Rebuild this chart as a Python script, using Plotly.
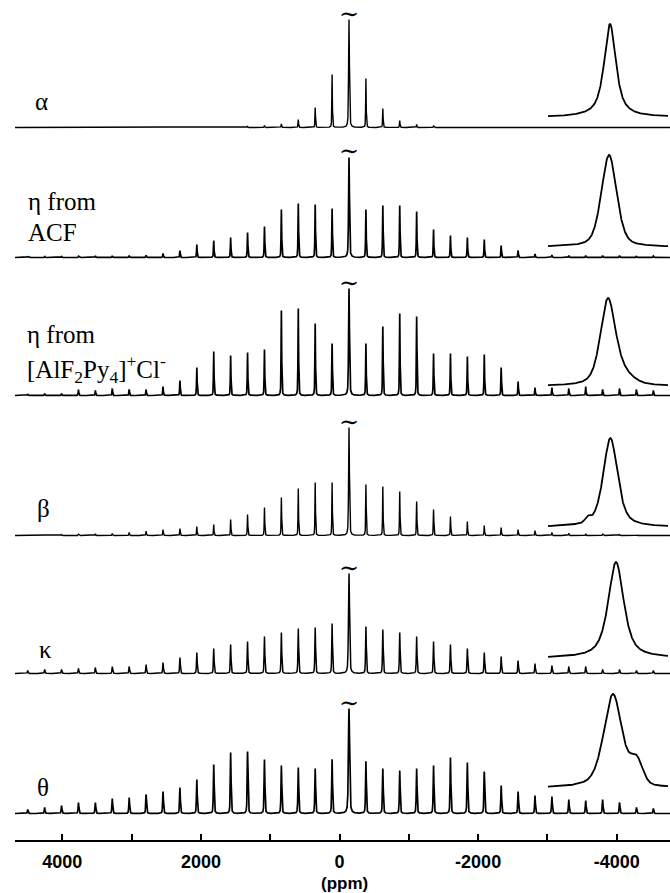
import numpy as np
import plotly.graph_objects as go

W, H = 670, 893

# ------------------------------------------------------------------ data
ORDERS = list(range(-19, 19))          # spinning-sideband order n
CENTRE_PPM = -137.0                    # isotropic (central) line
SIDEBAND_SPACING_PPM = 244.0           # spinning-rate spacing

LABEL_LINE1 = ["α", "η from", "η from", "β", "κ", "θ"]
LABEL_LINE2 = ["", "ACF", "[AlF<sub>2</sub>Py<sub>4</sub>]<sup>+</sup>Cl<sup>-</sup>", "", "", ""]

# sideband intensities, n = -19 ... 18 (central line n = 0 truncated, marked ~)
ALPHA = [0, 0, 0, 0, 0, 0, 0, 0, 0, 0, 0, 0.3, 0.5, 1, 2, 3.5, 8, 20, 53,
         108,
         49, 19, 7, 3, 1.5, 0.7, 0.3, 0, 0, 0, 0, 0, 0, 0, 0, 0, 0, 0]
ETA_ACF = [0.8, 1, 1, 1.3, 1.7, 1.7, 2, 2.3, 4, 7, 13, 17, 20, 25, 31, 48, 54, 53, 49,
           100,
           48, 52, 52, 46, 28, 22, 20, 18, 12, 7, 3.5, 2.5, 2, 2, 2, 2, 1.5, 1.5]
ETA_ALF = [1.5, 2, 2, 6, 5, 7, 6, 6, 9, 15, 28, 44, 40, 43, 46, 85, 87, 72, 52,
           107,
           52, 69, 82, 79, 42, 42, 39, 41, 28, 14, 8, 8, 7, 9, 6, 7, 6, 5]
BETA = [0.5, 0.7, 1, 1.3, 1.7, 2, 3, 4.3, 6, 7, 9, 11, 16, 21, 28, 38, 47, 53, 53,
        108,
        51, 49, 44, 34, 26, 19, 14, 10, 8, 6, 5, 3, 2.3, 1.7, 1.3, 1, 0.8, 0.6]
KAPPA = [3, 4, 4, 5, 6, 7, 7, 9, 11, 16, 21, 25, 29, 32, 37, 41, 45, 46, 50,
         100,
         47, 44, 41, 37, 32, 29, 25, 21, 17, 13, 10, 8, 7, 7, 4, 4, 3, 3]
THETA = [4, 6, 8, 11, 11, 15, 16, 19, 22, 26, 34, 49, 61, 62, 54, 48, 46, 45, 54,
         105,
         52, 45, 43, 45, 48, 56, 51, 42, 28, 22, 18, 17, 14, 13, 14, 11, 6, 5]
INTENSITIES = [ALPHA, ETA_ACF, ETA_ALF, BETA, KAPPA, THETA]

SIDEBAND_FWHM_PPM = [9, 10, 10, 9, 12, 13]
CENTRE_FWHM_PPM = [14, 15, 15, 14, 18, 20]
LORENTZ_FRACTION = 0.5

# expanded central line (insets): components (centre, rel. height, fwhm, lorentz fraction)
INSET_COMPONENTS = [
    [(-137, 1.00, 70, 0.8)],
    [(-132, 1.00, 90, 0.4)],
    [(-126, 1.00, 88, 0.5), (-185, 0.12, 140, 0.0)],
    [(-139, 1.00, 85, 0.6), (-25, 0.05, 30, 0.0)],
    [(-167, 1.00, 92, 0.7)],
    [(-152, 1.00, 110, 0.5), (-270, 0.24, 70, 0.0)],
]

X_TICKS = [4000, 3000, 2000, 1000, 0, -1000, -2000, -3000, -4000]
X_TICK_LABELS = ["4000", "", "2000", "", "0", "", "-2000", "", "-4000"]

# ------------------------------------------------------------------ layout constants (px)
BASELINE_PX = [127, 257, 395, 535, 673, 813]
INSET_BASE_PX = [117, 247, 386, 527, 658, 788]
INSET_TOP_PX = [24, 155, 298, 438, 562, 694]
LINE_W = [1.4, 1.7, 1.7, 1.4, 1.5, 1.7]
LABEL1_POS = [(33, 101.5), (26, 201.5), (25, 334.5), (35, 508.5), (37, 649.5), (35, 787.5)]
LABEL2_POS = [None, (26, 232.5), (25, 368.5), None, None, None]
AXIS_PX = 841
X_LEFT_PX = 15
PPM_LEFT, PPM_RIGHT = 4683, -4769


def px_x(px):
    return px / W


def px_y(py):
    return 1 - py / H


def shape(x, x0, fwhm, lf):
    u = (x - x0) / (fwhm / 2.0)
    return lf / (1 + u ** 2) + (1 - lf) * np.exp(-np.log(2) * u ** 2)


ppm = np.arange(PPM_LEFT, PPM_RIGHT - 1, -1.0)
positions = [CENTRE_PPM - SIDEBAND_SPACING_PPM * n for n in ORDERS]

fig = go.Figure()
layout_axes = {}

for k, inten in enumerate(INTENSITIES):
    y = np.zeros_like(ppm)
    for n, pos, a in zip(ORDERS, positions, inten):
        if a <= 0:
            continue
        fw = CENTRE_FWHM_PPM[k] if n == 0 else SIDEBAND_FWHM_PPM[k]
        y += a * shape(ppm, pos, fw, LORENTZ_FRACTION)
    yname = "y" if k == 0 else f"y{k + 1}"
    fig.add_trace(go.Scatter(x=ppm, y=np.round(y, 2), mode="lines",
                             line=dict(color="black", width=LINE_W[k]),
                             xaxis="x", yaxis=yname, hoverinfo="skip", showlegend=False))
    b = BASELINE_PX[k]
    layout_axes["yaxis" if k == 0 else f"yaxis{k + 1}"] = dict(
        domain=[px_y(b + 6.5), px_y(b - 125.5)], range=[-6, 126], visible=False,
        anchor="x", fixedrange=True)

    # tilde marking the truncated central line
    fig.add_annotation(x=CENTRE_PPM, xref="x", y=inten[ORDERS.index(0)], yref=yname,
                       text="∼", showarrow=False, yanchor="middle", yshift=6,
                       font=dict(family="DejaVu Serif, serif", size=24, color="black"))

    # inset: expanded central line
    xi = np.linspace(173, -427, 600)
    yi = np.zeros_like(xi)
    for (c, h, fw, lf) in INSET_COMPONENTS[k]:
        yi += h * shape(xi, c, fw, lf)
    yi = yi / yi.max()
    iy = f"y{k + 7}"
    fig.add_trace(go.Scatter(x=xi, y=np.round(yi, 4), mode="lines",
                             line=dict(color="black", width=1.8),
                             xaxis="x2", yaxis=iy, hoverinfo="skip", showlegend=False))
    base, top = INSET_BASE_PX[k], INSET_TOP_PX[k]
    hh = base - top
    layout_axes[f"yaxis{k + 7}"] = dict(
        domain=[px_y(base + 0.05 * hh), px_y(top - 0.05 * hh)], range=[-0.05, 1.05],
        visible=False, anchor="x2", fixedrange=True)

    # labels
    serif = dict(family="Liberation Serif, Times New Roman, serif", size=25, color="black")
    lx, ly = LABEL1_POS[k]
    fig.add_annotation(x=px_x(lx), y=px_y(ly), xref="paper", yref="paper",
                       text=LABEL_LINE1[k], showarrow=False, xanchor="left",
                       yanchor="middle", font=serif)
    if LABEL_LINE2[k]:
        lx, ly = LABEL2_POS[k]
        fig.add_annotation(x=px_x(lx), y=px_y(ly), xref="paper", yref="paper",
                           text=LABEL_LINE2[k], showarrow=False, xanchor="left",
                           yanchor="middle", font=serif)

fig.add_annotation(x=px_x(344), y=px_y(883), xref="paper", yref="paper",
                   text="(ppm)", showarrow=False, xanchor="center", yanchor="middle",
                   font=dict(family="Liberation Sans, Arial, sans-serif", size=17,
                             color="black", weight="bold"))

fig.update_layout(
    width=W, height=H, margin=dict(l=0, r=0, t=0, b=0),
    paper_bgcolor="white", plot_bgcolor="rgba(0,0,0,0)", showlegend=False,
    xaxis=dict(domain=[px_x(X_LEFT_PX), 1], range=[PPM_LEFT, PPM_RIGHT],
               anchor="free", position=px_y(AXIS_PX),
               showline=True, linecolor="black", linewidth=2,
               ticks="inside", ticklen=6, tickwidth=2, tickcolor="black",
               tickvals=X_TICKS, ticktext=X_TICK_LABELS, ticklabelstandoff=4,
               tickfont=dict(family="Liberation Sans, Arial, sans-serif", size=18,
                             color="black", weight="bold"),
               showgrid=False, zeroline=False, fixedrange=True),
    xaxis2=dict(domain=[px_x(548), px_x(668)], range=[173, -427], visible=False,
                anchor="y7", fixedrange=True),
    **layout_axes,
)

fig.write_html("out.html")
